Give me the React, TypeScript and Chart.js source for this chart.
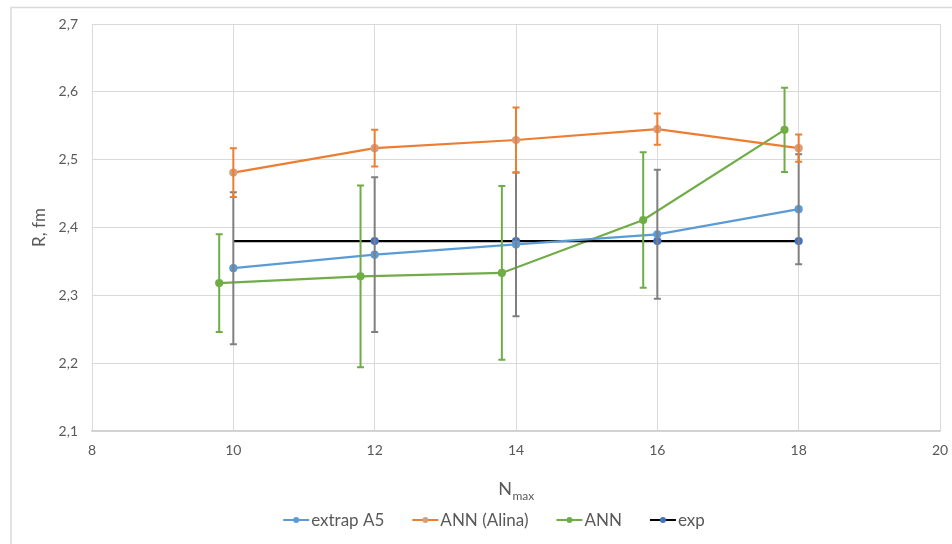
import React, { useEffect, useRef } from "react";
import { Chart, registerables } from "chart.js";

Chart.register(...registerables);

const xMain = [10, 12, 14, 16, 18];
const xAnn = [9.8, 11.8, 13.8, 15.8, 17.8];

const extrapA5 = [2.34, 2.36, 2.375, 2.39, 2.427];
const extrapA5Err = [0.112, 0.114, 0.106, 0.095, 0.081];

const annAlina = [2.481, 2.517, 2.529, 2.545, 2.517];
const annAlinaErr = [0.036, 0.027, 0.048, 0.023, 0.02];

const ann = [2.318, 2.328, 2.333, 2.411, 2.544];
const annErr = [0.072, 0.134, 0.128, 0.1, 0.062];

const expVal = [2.38, 2.38, 2.38, 2.38, 2.38];

const seriesNames = ["extrap A5", "ANN (Alina)", "ANN", "exp"];
const lineColors = ["#5B9BD5", "#ED7D31", "#70AD47", "#000000"];
const markerColors = ["#5B9BD5", "#D49E80", "#70AD47", "#4472C4"];
const errLists: (number[] | null)[] = [extrapA5Err, annAlinaErr, annErr, null];
const errColors = ["#7F7F7F", "#ED7D31", "#70AD47", "#000000"];

const FONT = "Lato, 'Open Sans', sans-serif";
const TEXT = "#595959";

const pts = (xs: number[], ys: number[]) => xs.map((x, i) => ({ x, y: ys[i] }));

const customPlugin = {
  id: "custom",
  beforeDraw(chart: any) {
    const ctx = chart.ctx;
    ctx.save();
    ctx.fillStyle = "#ffffff";
    ctx.fillRect(0, 0, chart.width, chart.height);
    ctx.strokeStyle = "#d9d9d9";
    ctx.lineWidth = 1.5;
    ctx.beginPath();
    ctx.moveTo(11, chart.height);
    ctx.lineTo(11, 7.5);
    ctx.lineTo(chart.width, 7.5);
    ctx.stroke();
    ctx.restore();
  },
  afterDatasetsDraw(chart: any) {
    const ctx = chart.ctx;
    const xs = chart.scales.x;
    const ys = chart.scales.y;
    ctx.save();
    chart.data.datasets.forEach((ds: any) => {
      const si = seriesNames.indexOf(ds.label);
      const errs = errLists[si];
      if (!errs) return;
      ctx.strokeStyle = errColors[si];
      ctx.lineWidth = 2;
      ds.data.forEach((p: any, i: number) => {
        const px = xs.getPixelForValue(p.x);
        const top = ys.getPixelForValue(p.y + errs[i]);
        const bot = ys.getPixelForValue(p.y - errs[i]);
        ctx.beginPath();
        ctx.moveTo(px, top);
        ctx.lineTo(px, bot);
        ctx.moveTo(px - 3.5, top);
        ctx.lineTo(px + 3.5, top);
        ctx.moveTo(px - 3.5, bot);
        ctx.lineTo(px + 3.5, bot);
        ctx.stroke();
      });
    });
    ctx.restore();
  },
  afterDraw(chart: any) {
    const ctx = chart.ctx;
    const area = chart.chartArea;
    ctx.save();
    ctx.fillStyle = TEXT;
    // x title N_max
    const cx = (area.left + area.right) / 2;
    ctx.font = `18px ${FONT}`;
    const wN = ctx.measureText("N").width;
    ctx.font = `12px ${FONT}`;
    const wSub = ctx.measureText("max").width;
    const start = cx - (wN + wSub) / 2;
    ctx.textBaseline = "alphabetic";
    ctx.textAlign = "left";
    ctx.font = `18px ${FONT}`;
    ctx.fillText("N", start, 495);
    ctx.font = `12px ${FONT}`;
    ctx.fillText("max", start + wN + 0.5, 500);
    // y title
    ctx.save();
    ctx.translate(40, (area.top + area.bottom) / 2);
    ctx.rotate(-Math.PI / 2);
    ctx.textAlign = "center";
    ctx.textBaseline = "middle";
    ctx.font = `17px ${FONT}`;
    ctx.fillText("R, fm", 0, 0);
    ctx.restore();
    // legend
    ctx.font = `17px ${FONT}`;
    const symW = 26;
    const gapText = 2;
    const gapItem = 28;
    const widths = seriesNames.map((n) => symW + gapText + ctx.measureText(n).width);
    const total = widths.reduce((a, b) => a + b, 0) + gapItem * (widths.length - 1);
    let x = 494 - total / 2;
    const ly = 520;
    seriesNames.forEach((n, i) => {
      ctx.strokeStyle = lineColors[i];
      ctx.lineWidth = 2;
      ctx.beginPath();
      ctx.moveTo(x, ly);
      ctx.lineTo(x + symW, ly);
      ctx.stroke();
      ctx.fillStyle = markerColors[i];
      ctx.beginPath();
      ctx.arc(x + symW / 2, ly, 3, 0, Math.PI * 2);
      ctx.fill();
      ctx.fillStyle = TEXT;
      ctx.textAlign = "left";
      ctx.textBaseline = "middle";
      ctx.fillText(n, x + symW + gapText, ly + 1);
      x += widths[i] + gapItem;
    });
    ctx.restore();
  },
};

export default function App() {
  const ref = useRef<HTMLCanvasElement | null>(null);
  useEffect(() => {
    document.body.style.margin = "0";
    if (!ref.current) return;
    const mk = (i: number, data: any[], radius: any = 3) => ({
      label: seriesNames[i],
      data,
      showLine: true,
      borderColor: lineColors[i],
      backgroundColor: markerColors[i],
      pointBackgroundColor: markerColors[i],
      pointBorderColor: markerColors[i],
      pointRadius: radius,
      pointHoverRadius: radius,
      borderWidth: 2.2,
      tension: 0,
    });
    const chart = new Chart(ref.current, {
      type: "scatter",
      data: {
        datasets: [
          mk(0, pts(xMain, extrapA5)),
          mk(3, pts(xMain, expVal), [0, 3, 3, 3, 3]),
          mk(1, pts(xMain, annAlina)),
          mk(2, pts(xAnn, ann)),
        ],
      },
      options: {
        responsive: false,
        animation: false,
        layout: { padding: { left: 0, right: 12, top: 24, bottom: 0 } },
        plugins: { legend: { display: false }, tooltip: { enabled: false }, title: { display: false } },
        scales: {
          x: {
            type: "linear",
            min: 8,
            max: 20,
            afterFit: (s: any) => {
              s.height = 113;
              s.paddingRight = 0;
              s.paddingLeft = 0;
            },
            ticks: {
              stepSize: 2,
              color: TEXT,
              font: { family: FONT, size: 14 },
              padding: 11,
              maxRotation: 0,
            },
            grid: { color: "#d9d9d9", lineWidth: 1, drawTicks: false },
            border: { color: "#d0d0d0", width: 1.5 },
          },
          y: {
            type: "linear",
            min: 2.1,
            max: 2.7,
            afterFit: (s: any) => {
              s.width = 92;
              s.paddingTop = 0;
              s.paddingBottom = 0;
            },
            ticks: {
              stepSize: 0.1,
              color: TEXT,
              font: { family: FONT, size: 14 },
              padding: 14,
              callback: (v: any) => Number(v).toFixed(1).replace(".", ","),
            },
            grid: { color: "#d9d9d9", lineWidth: 1, drawTicks: false },
            border: { display: false },
          },
        },
      },
      plugins: [customPlugin],
    });
    return () => chart.destroy();
  }, []);
  return (
    <div style={{ width: 952, height: 544 }}>
      <canvas ref={ref} width={952} height={544} />
    </div>
  );
}
